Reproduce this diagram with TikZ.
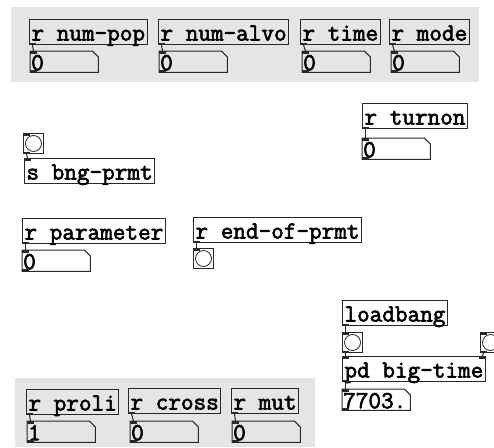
\documentclass[tikz,border=0pt]{standalone}
\usepackage{fontspec}
\usepackage{tikz}
\usepackage{xcolor}
\newfontfamily\pdfont[FakeBold=2.5]{Latin Modern Mono}
\newcommand\pdtext{\pdfont\fontsize{24.5pt}{26pt}\selectfont}
\definecolor{cnvgray}{RGB}{229,229,229}
\definecolor{pdline}{RGB}{40,40,40}
\tikzset{
  obj/.style={draw=pdline, line width=1pt, anchor=north west, text height=21pt, text depth=4pt,
    inner xsep=2pt, inner ysep=0pt, font=\pdtext},
  numbox/.style={anchor=north west, text height=19pt, text depth=2pt, text width=66pt, align=left,
    inner xsep=1pt, inner ysep=0pt, font=\pdtext},
  bng/.style={draw=pdline, line width=1pt, anchor=north west, minimum size=20pt, inner sep=0pt},
  wire/.style={draw=pdline, line width=1pt}
}
\begin{document}
\begin{tikzpicture}[x=1pt,y=-1pt]
                \useasboundingbox (0,0) rectangle (494,447);
                \clip (0,0) rectangle (494,447);
                \fill[white] (0,0) rectangle (494,447);
                \fill[cnvgray] (11,7) rectangle (479,82);
                \fill[cnvgray] (15,378) rectangle (315,447);
                % receive objects and their number boxes
                \node[obj] (popr) at (29,19) {r num-pop};
                \node[numbox] (popn) at (30,51) {0};
                \node[obj] (alvor) at (158,19) {r num-alvo};
                \node[numbox] (alvon) at (159,51) {0};
                \node[obj] (timer) at (300,19) {r time};
                \node[numbox] (timen) at (302,51) {0};
                \node[obj] (moder) at (389,19) {r mode};
                \node[numbox] (moden) at (391,51) {0};
                \node[obj] (turnonr) at (362,103) {r turnon};
                \node[numbox] (turnonn) at (362,138) {0};
                \node[bng] (prmtb) at (23,133) {};
                \node[obj] (sprmt) at (24,158) {s bng-prmt};
                \node[obj] (paramr) at (22,218) {r parameter};
                \node[numbox] (paramn) at (22,250) {0};
                \node[obj] (endr) at (193,217) {r end-of-prmt};
                \node[bng] (endb) at (193,248) {};
                \node[obj] (lb) at (342,300) {loadbang};
                \node[bng] (lbb) at (342,332) {};
                \node[bng] (rightb) at (480,332) {};
                \node[obj] (bigtime) at (342,356) {pd big-time};
                \node[numbox] (bigtimen) at (342,389) {7703.};
                \node[obj] (prolir) at (26,389) {r proli};
                \node[numbox] (prolin) at (27,421) {1};
                \node[obj] (crossr) at (128,388) {r cross};
                \node[numbox] (crossn) at (130,421) {0};
                \node[obj] (mutr) at (231,388) {r mut};
                \node[numbox] (mutn) at (232,421) {0};
                % number box outlines
                \foreach \n in {popn,alvon,timen,moden,turnonn,paramn,bigtimen,prolin,crossn,mutn}
                  \draw[pdline, line width=1pt] (\n.north west) -- ([xshift=-6pt]\n.north east)
                    -- ([yshift=-6pt]\n.north east) -- (\n.south east) -- (\n.south west) -- cycle;
                \foreach \n in {prmtb,endb,lbb,rightb}
                  \draw[pdline, line width=0.8pt, fill=white] (\n.center) circle (8pt);
                % inlets and outlets
                \foreach \n in {popr,alvor,timer,moder,turnonr,prmtb,paramr,endr,lb,lbb,rightb,bigtime,prolir,crossr,mutr,popn,alvon,timen,moden,turnonn,paramn,bigtimen,prolin,crossn,mutn}
                  \fill[pdline] (\n.south west) rectangle ([xshift=7pt,yshift=2.5pt]\n.south west);
                \foreach \n in {popn,alvon,timen,moden,turnonn,paramn,bigtimen,prolin,crossn,mutn,prmtb,sprmt,endb,lbb,rightb,bigtime}
                  \fill[pdline] (\n.north west) rectangle ([xshift=7pt,yshift=-2.5pt]\n.north west);
                \fill[pdline] ([xshift=-7pt]bigtime.north east) rectangle ([yshift=-2.5pt]bigtime.north east);
                % connections
                \foreach \a/\b in {popr/popn,alvor/alvon,timer/timen,moder/moden,turnonr/turnonn,prmtb/sprmt,paramr/paramn,endr/endb,lb/lbb,lbb/bigtime,bigtime/bigtimen,prolir/prolin,crossr/crossn,mutr/mutn}
                  \draw[wire] ([xshift=3.5pt]\a.south west) -- ([xshift=3.5pt]\b.north west);
                \draw[wire] ([xshift=3.5pt]rightb.south west) -- ([xshift=-3.5pt]bigtime.north east);
            \end{tikzpicture}
\end{document}
